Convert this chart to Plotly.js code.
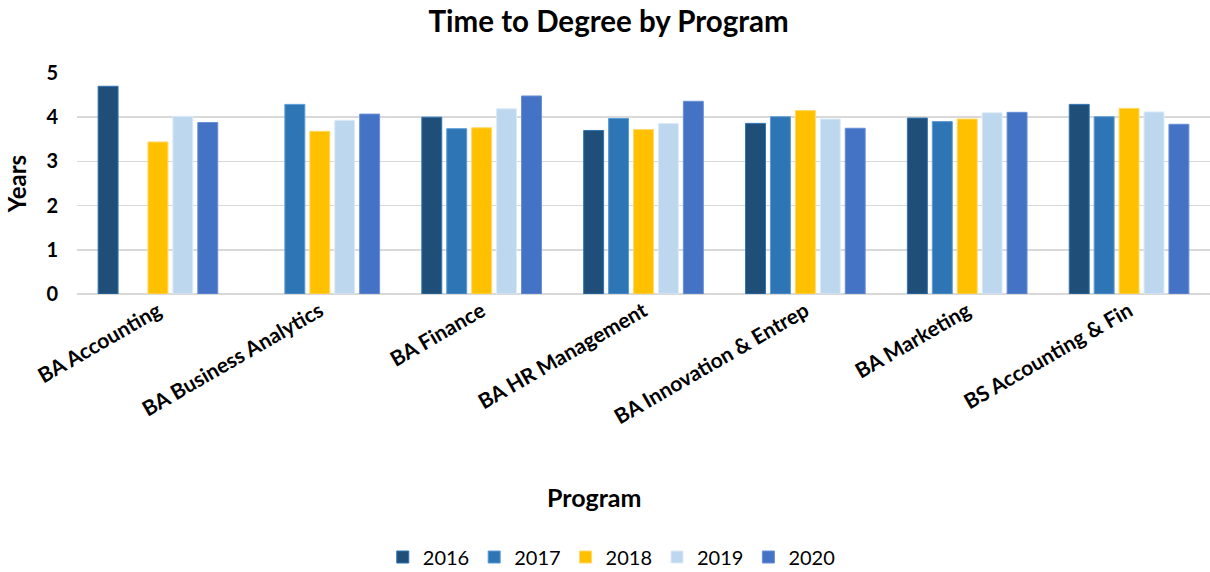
<!DOCTYPE html>
<html>
<head>
<meta charset="utf-8">
<script src="https://cdn.plot.ly/plotly-3.0.1.min.js"></script>
<style>html,body{margin:0;padding:0;background:#fff;}#chart{width:1210px;height:572px;}</style>
</head>
<body>
<div id="chart"></div>
<script>
const programs = ["BA Accounting", "BA Business Analytics", "BA Finance", "BA HR Management", "BA Innovation & Entrep", "BA Marketing", "BS Accounting & Fin"];
const years = ["2016", "2017", "2018", "2019", "2020"];
const y2016 = [4.70, null, 4.00, 3.70, 3.86, 3.98, 4.29];
const y2017 = [null, 4.29, 3.74, 3.97, 4.01, 3.90, 4.01];
const y2018 = [3.44, 3.68, 3.76, 3.72, 4.15, 3.96, 4.20];
const y2019 = [4.02, 3.93, 4.19, 3.86, 3.96, 4.10, 4.12];
const y2020 = [3.88, 4.07, 4.48, 4.36, 3.75, 4.11, 3.84];
const seriesValues = [y2016, y2017, y2018, y2019, y2020];
const colors = ["#1F4E79", "#2E75B6", "#FFC000", "#BDD7EE", "#4472C4"];
const borders = ["#2E75B6", "#5B9BD5", "#FFD966", "#DEEBF7", "#6A8FD8"];

const FONT = "Lato, 'Open Sans', sans-serif";
const traces = years.map((yr, i) => ({
  type: "bar",
  name: yr,
  x: programs,
  y: seriesValues[i],
  marker: {color: colors[i], line: {color: borders[i], width: 1}},
  hoverinfo: "x+y+name"
}));

const layout = {
  width: 1210, height: 572,
  paper_bgcolor: "#fff", plot_bgcolor: "#fff",
  margin: {l: 77, r: 0, t: 73, b: 278, autoexpand: false},
  font: {family: FONT, color: "#000"},
  title: {text: "<b>Time to Degree by Program</b>", font: {size: 29.5, family: FONT, color: "#000"}, x: 0.503, xanchor: "center", y: 0.962, yanchor: "middle"},
  barmode: "group",
  bargap: 0.23,
  bargroupgap: 0.2,
  xaxis: {
    type: "category",
    tickangle: -30,
    tickfont: {size: 21, family: FONT, color: "#000", weight: "bold"},
    showgrid: false, showline: false, zeroline: false, ticks: "",
    automargin: false,
    title: {text: ""}
  },
  yaxis: {
    range: [0, 5],
    dtick: 1,
    tickfont: {size: 20, family: FONT, color: "#000", weight: "bold"},
    gridcolor: "#D9D9D9", gridwidth: 1.5,
    zeroline: true, zerolinecolor: "#D9D9D9", zerolinewidth: 1.5,
    showline: false, ticks: "",
    ticklabelstandoff: 18,
    automargin: false,
    title: {text: "<b>Years</b>", font: {size: 24, family: FONT, color: "#000"}, standoff: 12}
  },
  annotations: [{
    text: "<b>Program</b>", xref: "paper", yref: "paper", x: 0.457, y: (294 - 497) / 221,
    xanchor: "center", yanchor: "middle", showarrow: false,
    font: {size: 25, family: FONT, color: "#000"}
  }],
  legend: {
    orientation: "h", x: 0.472, xanchor: "center", y: (294 - 557) / 221, yanchor: "middle",
    font: {size: 20, family: FONT, color: "#000"},
    itemwidth: 30, tracegroupgap: 0
  },
  showlegend: true
};

Plotly.newPlot("chart", traces, layout, {displayModeBar: false, staticPlot: true});
</script>
</body>
</html>
